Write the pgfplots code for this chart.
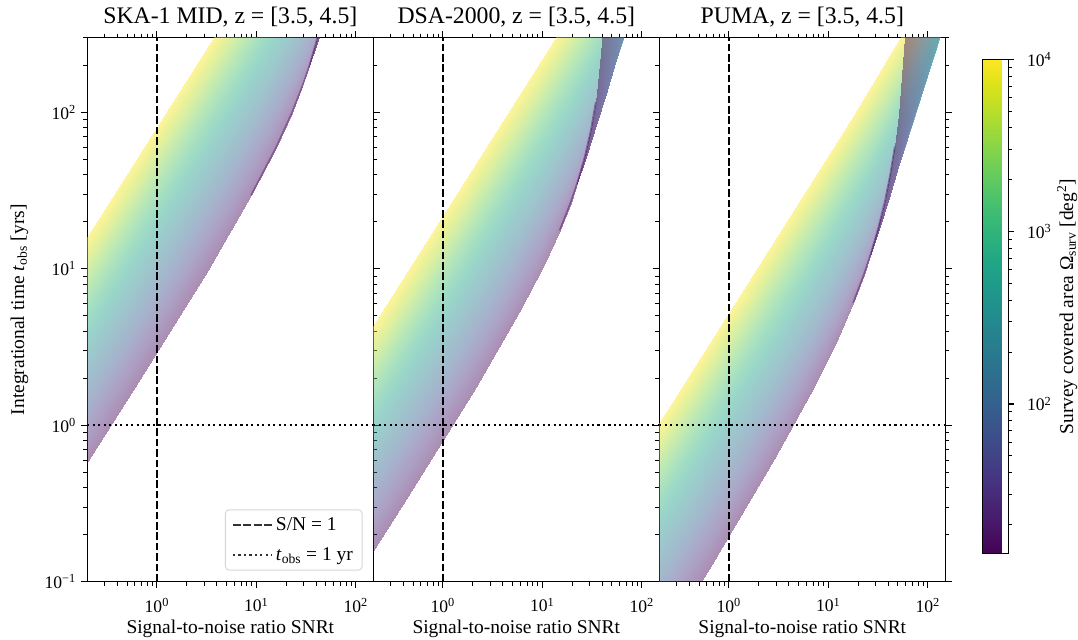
\documentclass[border=0pt]{standalone}
\usepackage{fontspec}
\setmainfont{Liberation Serif}
\usepackage{pgfplots}
\pgfplotsset{compat=1.18}
\definecolor{vdark}{RGB}{70,12,96}
\newcommand\fTitle{\fontsize{17.8}{20}\selectfont}
\newcommand\fLab{\fontsize{14.6}{17}\selectfont}
\newcommand\fTick{\fontsize{13.2}{15}\selectfont}
\begin{document}
\begin{tikzpicture}
\useasboundingbox (-65.5pt,-43pt) rectangle (743pt,436.25pt);
% ---------------- SKA-1 MID ----------------
\begin{axis}[name=p1, at={(0pt,0pt)}, anchor=south west,
    scale only axis, width=214.5pt, height=408pt,
    xmode=log, ymode=log, xmin=0.2, xmax=150, ymin=0.1, ymax=300,
    colormap/viridis, point meta min=1.13, point meta max=4,
    axis line style={line width=0.8pt},
    tick style={black, line width=0.8pt},
    minor tick style={black, line width=0.6pt},
    tick align=outside,
    major tick length=5pt, minor tick length=3pt,
    xtick={1,10,100},
    xticklabels={10\textsuperscript{0},10\textsuperscript{1},10\textsuperscript{2}},
    minor xtick={0.3,0.4,0.5,0.6,0.7,0.8,0.9,2,3,4,5,6,7,8,9,20,30,40,50,60,70,80,90},
    xtick pos=both, xticklabel pos=left,
    xticklabel style={font=\fTick, yshift=-3.75pt},
    ytick={0.1,1,10,100},
    minor ytick={0.2,0.3,0.4,0.5,0.6,0.7,0.8,0.9,2,3,4,5,6,7,8,9,20,30,40,50,60,70,80,90,200,300},
    xlabel={Signal-to-noise ratio SNRt},
    xlabel style={font=\fLab, at={(axis description cs:0.5,-0.0961)}, anchor=base},
    title style={font=\fTitle, at={(axis description cs:0.5,1.012)}, anchor=base},
  title={SKA-1 MID, z = [3.5, 4.5]},
  ytick pos=both, yticklabel pos=left,
  yticklabels={10\textsuperscript{−1},10\textsuperscript{0},10\textsuperscript{1},10\textsuperscript{2}},
  yticklabel style={font=\fTick},
  ylabel={Integrational time \textit{t}\textsubscript{obs} [yrs]},
  ylabel style={font=\fLab, at={(axis description cs:-0.2373,0.5)}, anchor=center},
  legend style={at={(axis description cs:0.963,0.0202)}, anchor=south east,
    draw=black!20, line width=0.75pt, rounded corners=3pt, fill=white,
    fill opacity=0.8, draw opacity=0.8, text opacity=1, font=\fLab,
    inner xsep=5pt, inner ysep=4pt, row sep=7pt},
  legend cell align=left,
  legend image code/.code={\draw[#1] (0pt,0pt) -- (29.5pt,0pt);},
]
\addplot[surf, shader=interp, opacity=0.45, point meta=explicit, mesh/cols=8, forget plot] table[meta=m] {
S t m
0.00006784 0.0001968 1.13
0.6717 1.968 1.13
3.2305 9.84 1.13
8.849 29.52 1.13
15.655 59.04 1.13
22.613 98.4 1.13
29.074 147.6 1.13
33.92 196.8 1.13

0.0000825 0.0002911 1.3
0.8168 2.911 1.3
3.9286 14.555 1.3
10.761 43.665 1.3
19.038 87.33 1.3
27.5 145.55 1.3
35.357 218.33 1.3
41.25 291.1 1.3

0.00010386 0.0004614 1.5
1.0283 4.614 1.5
4.9457 23.07 1.5
13.547 69.21 1.5
23.968 138.42 1.5
34.62 230.7 1.5
44.511 346.05 1.5
51.93 461.4 1.5

0.0001385 0.0008205 1.75
1.3713 8.205 1.75
6.5952 41.025 1.75
18.065 123.08 1.75
31.962 246.15 1.75
46.167 410.25 1.75
59.357 615.38 1.75
69.25 820.5 1.75

0.0001847 0.001459 2
1.8287 14.59 2
8.795 72.95 2
24.091 218.85 2
42.623 437.7 2
61.567 729.5 2
79.157 1094.3 2
92.35 1459 2

0.00032845 0.004614 2.5
3.252 46.138 2.5
15.64 230.69 2.5
42.841 692.07 2.5
75.796 1384.1 2.5
109.48 2306.9 2.5
140.76 3460.4 2.5
164.23 4613.8 2.5

0.00058407 0.01459 3
5.7829 145.9 3
27.813 729.5 3
76.183 2188.5 3
134.79 4377 3
194.69 7295 3
250.32 10943 3
292.04 14590 3

0.0010386 0.046138 3.5
10.283 461.38 3.5
49.457 2306.9 3.5
135.47 6920.7 3.5
239.68 13841 3.5
346.2 23069 3.5
445.11 34604 3.5
519.3 46138 3.5

0.001847 0.1459 4
18.287 1459 4
87.952 7295 4
240.91 21885 4
426.23 43770 4
615.67 72950 4
791.57 109425 4
923.5 145900 4
};
\addplot[surf, shader=interp, opacity=0.45, point meta=explicit, mesh/cols=9, forget plot] table[meta=m] {
S t m
33.92 196.8 1.13
40.70 295.2 1.13
46.64 432.96 1.13
52.06 649.44 1.13
56.53 984 1.13
60.30 1574.4 1.13
63.32 2755.2 1.13
65.23 4920 1.13
66.37 8856 1.13

41.25 291.1 1.3
49.5 436.65 1.3
56.719 640.42 1.3
63.314 960.63 1.3
68.75 1455.5 1.3
73.333 2328.8 1.3
77.0 4075.4 1.3
79.327 7277.5 1.3
80.707 13100 1.3

51.93 461.4 1.5
62.316 692.1 1.5
71.404 1015.1 1.5
79.707 1522.6 1.5
86.55 2307 1.5
92.32 3691.2 1.5
96.936 6459.6 1.5
99.865 11535 1.5
101.6 20763 1.5
};
\addplot[vdark, opacity=0.4, line width=1.2pt, forget plot] coordinates {(8.849,29.52) (15.655,59.04) (22.613,98.4) (29.074,147.6) (33.92,196.8) (40.70,295.2) (46.64,432.96)};
\addplot[black, line width=1.5pt, dash pattern=on 5.8pt off 2pt] coordinates {(1,0.1) (1,300)};
\addlegendentry{S/N = 1}
\addplot[black, line width=1.5pt, dash pattern=on 1.6pt off 2.5pt] coordinates {(0.2,1) (150,1)};
\addlegendentry{\textit{t}\textsubscript{obs} = 1 yr}
\end{axis}
% ---------------- DSA-2000 ----------------
\begin{axis}[name=p2, at={(p1.south east)}, anchor=south west,
    scale only axis, width=214.5pt, height=408pt,
    xmode=log, ymode=log, xmin=0.2, xmax=150, ymin=0.1, ymax=300,
    colormap/viridis, point meta min=1.13, point meta max=4,
    axis line style={line width=0.8pt},
    tick style={black, line width=0.8pt},
    minor tick style={black, line width=0.6pt},
    tick align=outside,
    major tick length=5pt, minor tick length=3pt,
    xtick={1,10,100},
    xticklabels={10\textsuperscript{0},10\textsuperscript{1},10\textsuperscript{2}},
    minor xtick={0.3,0.4,0.5,0.6,0.7,0.8,0.9,2,3,4,5,6,7,8,9,20,30,40,50,60,70,80,90},
    xtick pos=both, xticklabel pos=left,
    xticklabel style={font=\fTick, yshift=-3.75pt},
    ymajorticks=false, yminorticks=false,
    xlabel={Signal-to-noise ratio SNRt},
    xlabel style={font=\fLab, at={(axis description cs:0.5,-0.0961)}, anchor=base},
    title style={font=\fTitle, at={(axis description cs:0.5,1.012)}, anchor=base},
  title={DSA-2000, z = [3.5, 4.5]},
]
\addplot[surf, shader=interp, opacity=0.45, point meta=explicit, mesh/cols=8, forget plot] table[meta=m] {
S t m
0.00004481 0.00003522 1.13
0.44367 0.3522 1.13
2.1338 1.761 1.13
5.8448 5.283 1.13
10.341 10.566 1.13
14.937 17.61 1.13
19.204 26.415 1.13
22.405 35.22 1.13

0.000054495 0.000052097 1.3
0.53956 0.52097 1.3
2.595 2.6049 1.3
7.1081 7.8146 1.3
12.576 15.629 1.3
18.165 26.049 1.3
23.355 39.073 1.3
27.248 52.097 1.3

0.000068605 0.000082568 1.5
0.67926 0.82568 1.5
3.2669 4.1284 1.5
8.9485 12.385 1.5
15.832 24.77 1.5
22.868 41.284 1.5
29.402 61.926 1.5
34.303 82.568 1.5

0.00008637 0.00013086 1.7
0.85515 1.3086 1.7
4.1129 6.543 1.7
11.266 19.629 1.7
19.932 39.258 1.7
28.79 65.43 1.7
37.016 98.145 1.7
43.185 130.86 1.7

0.00010873 0.0002074 1.9
1.0765 2.074 1.9
5.1776 10.37 1.9
14.182 31.11 1.9
25.091 62.22 1.9
36.243 103.7 1.9
46.599 155.55 1.9
54.365 207.4 1.9

0.00013688 0.0003287 2.1
1.3553 3.287 2.1
6.5181 16.435 2.1
17.854 49.305 2.1
31.588 98.61 2.1
45.627 164.35 2.1
58.663 246.53 2.1
68.44 328.7 2.1

0.00017233 0.00052097 2.3
1.7062 5.2097 2.3
8.2062 26.049 2.3
22.478 78.146 2.3
39.768 156.29 2.3
57.443 260.49 2.3
73.856 390.73 2.3
86.165 520.97 2.3

0.00024343 0.0010395 2.6
2.4102 10.395 2.6
11.592 51.975 2.6
31.752 155.93 2.6
56.176 311.85 2.6
81.143 519.75 2.6
104.33 779.63 2.6
121.72 1039.5 2.6

0.0003858 0.002611 3
3.8198 26.11 3
18.371 130.55 3
50.322 391.65 3
89.031 783.3 3
128.6 1305.5 3
165.34 1958.3 3
192.9 2611 3

0.00068605 0.0082568 3.5
6.7926 82.568 3.5
32.669 412.84 3.5
89.485 1238.5 3.5
158.32 2477 3.5
228.68 4128.4 3.5
294.02 6192.6 3.5
343.03 8256.8 3.5

0.00122 0.02611 4
12.079 261.1 4
58.095 1305.5 4
159.13 3916.5 4
281.54 7833 4
406.67 13055 4
522.86 19583 4
610 26110 4
};
\addplot[surf, shader=interp, opacity=0.45, point meta=explicit, mesh/cols=9, forget plot] table[meta=m] {
S t m
22.405 35.22 1.13
26.886 52.83 1.13
30.807 77.484 1.13
34.389 116.23 1.13
37.342 176.1 1.13
39.831 281.76 1.13
41.823 493.08 1.13
43.087 880.5 1.13
43.836 1584.9 1.13

27.248 52.097 1.3
32.697 78.146 1.3
37.465 114.61 1.3
41.822 171.92 1.3
45.413 260.49 1.3
48.44 416.78 1.3
50.862 729.36 1.3
52.399 1302.4 1.3
53.311 2344.4 1.3

34.303 82.568 1.5
41.163 123.85 1.5
47.166 181.65 1.5
52.651 272.47 1.5
57.171 412.84 1.5
60.982 660.54 1.5
64.031 1155.95 1.5
65.966 2064.2 1.5
67.113 3715.6 1.5

43.185 130.86 1.7
51.822 196.29 1.7
59.379 287.89 1.7
66.284 431.84 1.7
71.975 654.3 1.7
76.773 1046.9 1.7
80.612 1832 1.7
83.048 3271.5 1.7
84.493 5888.7 1.7

54.365 207.4 1.9
65.238 311.1 1.9
74.752 456.28 1.9
83.443 684.42 1.9
90.608 1037 1.9
96.649 1659.2 1.9
101.48 2903.6 1.9
104.55 5185 1.9
106.37 9333 1.9

68.44 328.7 2.1
82.128 493.05 2.1
94.105 723.14 2.1
105.05 1084.7 2.1
114.07 1643.5 2.1
121.67 2629.6 2.1
127.75 4601.8 2.1
131.62 8217.5 2.1
133.9 14792 2.1
};
\addplot[vdark, opacity=0.45, line width=1.2pt, forget plot] coordinates {(14.937,17.61) (19.204,26.415) (22.405,35.22) (26.886,52.83) (30.807,77.484) (34.389,116.23)};
\addplot[black, line width=1.5pt, dash pattern=on 5.8pt off 2pt] coordinates {(1,0.1) (1,300)};
\addplot[black, line width=1.5pt, dash pattern=on 1.6pt off 2.5pt] coordinates {(0.2,1) (150,1)};
\end{axis}
% ---------------- PUMA ----------------
\begin{axis}[name=p3, at={(p2.south east)}, anchor=south west,
    scale only axis, width=214.5pt, height=408pt,
    xmode=log, ymode=log, xmin=0.2, xmax=150, ymin=0.1, ymax=300,
    colormap/viridis, point meta min=1.13, point meta max=4,
    axis line style={line width=0.8pt},
    tick style={black, line width=0.8pt},
    minor tick style={black, line width=0.6pt},
    tick align=outside,
    major tick length=5pt, minor tick length=3pt,
    xtick={1,10,100},
    xticklabels={10\textsuperscript{0},10\textsuperscript{1},10\textsuperscript{2}},
    minor xtick={0.3,0.4,0.5,0.6,0.7,0.8,0.9,2,3,4,5,6,7,8,9,20,30,40,50,60,70,80,90},
    xtick pos=both, xticklabel pos=left,
    xticklabel style={font=\fTick, yshift=-3.75pt},
    ytick={0.1,1,10,100},
    minor ytick={0.2,0.3,0.4,0.5,0.6,0.7,0.8,0.9,2,3,4,5,6,7,8,9,20,30,40,50,60,70,80,90,200,300},
    ytick pos=both, yticklabels={,,,},
    xlabel={Signal-to-noise ratio SNRt},
    xlabel style={font=\fLab, at={(axis description cs:0.5,-0.0961)}, anchor=base},
    title style={font=\fTitle, at={(axis description cs:0.5,1.012)}, anchor=base},
  title={PUMA, z = [3.5, 4.5]},
  colorbar,
  colorbar style={
    at={(parent axis.north east)}, anchor=north west,
    xshift=19.7pt, yshift=-16.2pt,
    scale only axis, width=19.5pt, height=371pt,
    axis line style={line width=0.8pt},
    ytick={2,3,4},
    yticklabels={10\textsuperscript{2},10\textsuperscript{3},10\textsuperscript{4}},
    minor ytick={1.30103,1.47712,1.60206,1.69897,1.77815,1.84510,1.90309,1.95424,2.30103,2.47712,2.60206,2.69897,2.77815,2.84510,2.90309,2.95424,3.30103,3.47712,3.60206,3.69897,3.77815,3.84510,3.90309,3.95424},
    ytick pos=right, yticklabel pos=right,
    tick align=outside, major tick length=3.75pt, minor tick length=2.25pt,
    tick style={black, line width=0.8pt},
    minor tick style={black, line width=0.6pt},
    yticklabel style={font=\fTick, xshift=6.3pt},
    ylabel={Survey covered area Ω\textsubscript{surv} [deg\textsuperscript{2}]},
    ylabel style={font=\fLab, at={(axis description cs:3.24,0.5)}, anchor=center},
  },
]
\addplot[surf, shader=interp, opacity=0.45, point meta=explicit, mesh/cols=8, forget plot] table[meta=m] {
S t m
0.000065012 0.0000121 1.13
0.626 0.121 1.13
2.8678 0.605 1.13
7.4133 1.815 1.13
12.6 3.63 1.13
17.776 6.05 1.13
22.606 9.075 1.13
26.312 12.1 1.13

0.000079062 0.000017898 1.3
0.76129 0.17898 1.3
3.4875 0.8949 1.3
9.0154 2.6847 1.3
15.323 5.3694 1.3
21.617 8.949 1.3
27.492 13.424 1.3
31.998 17.898 1.3

0.000099534 0.000028366 1.5
0.95841 0.28366 1.5
4.3905 1.4183 1.5
11.35 4.2549 1.5
19.291 8.5098 1.5
27.215 14.183 1.5
34.61 21.275 1.5
40.283 28.366 1.5

0.00012531 0.000044957 1.7
1.2066 0.44957 1.7
5.5275 2.2479 1.7
14.289 6.7436 1.7
24.286 13.487 1.7
34.262 22.479 1.7
43.573 33.718 1.7
50.715 44.957 1.7

0.00015775 0.000071251 1.9
1.519 0.71251 1.9
6.9585 3.5626 1.9
17.988 10.688 1.9
30.574 21.375 1.9
43.132 35.626 1.9
54.853 53.438 1.9
63.845 71.251 1.9

0.00019859 0.00011292 2.1
1.9122 1.1292 2.1
8.76 5.646 2.1
22.645 16.938 2.1
38.489 33.876 2.1
54.298 56.46 2.1
69.054 84.69 2.1
80.373 112.92 2.1

0.00025001 0.00017898 2.3
2.4073 1.7898 2.3
11.028 8.949 2.3
28.508 26.847 2.3
48.454 53.694 2.3
68.357 89.49 2.3
86.933 134.24 2.3
101.18 178.98 2.3

0.00031476 0.00028366 2.5
3.0308 2.8366 2.5
13.885 14.183 2.5
35.892 42.549 2.5
61.004 85.098 2.5
86.062 141.83 2.5
109.45 212.75 2.5
127.39 283.66 2.5

0.00039625 0.00044957 2.7
3.8155 4.4957 2.7
17.479 22.479 2.7
45.184 67.436 2.7
76.797 134.87 2.7
108.34 224.79 2.7
137.78 337.18 2.7
160.37 449.57 2.7

0.00055973 0.000897 3
5.3896 8.97 3
24.69 44.85 3
63.826 134.55 3
108.48 269.1 3
153.04 448.5 3
194.63 672.75 3
226.54 897 3

0.00099534 0.0028366 3.5
9.5841 28.366 3.5
43.905 141.83 3.5
113.5 425.49 3.5
192.91 850.98 3.5
272.15 1418.3 3.5
346.1 2127.5 3.5
402.83 2836.6 3.5

0.00177 0.00897 4
17.043 89.7 4
78.076 448.5 4
201.83 1345.5 4
343.04 2691 4
483.95 4485 4
615.46 6727.5 4
716.35 8970 4
};
\addplot[surf, shader=interp, opacity=0.45, point meta=explicit, mesh/cols=9, forget plot] table[meta=m] {
S t m
26.312 12.1 1.13
31.726 18.15 1.13
36.809 26.62 1.13
41.898 39.93 1.13
46.595 60.5 1.13
51.097 96.8 1.13
55.319 169.4 1.13
58.517 302.5 1.13
60.8 544.5 1.13

31.998 17.898 1.3
38.582 26.847 1.3
44.764 39.376 1.3
50.953 59.063 1.3
56.665 89.49 1.3
62.139 143.18 1.3
67.274 250.57 1.3
71.163 447.45 1.3
73.94 805.41 1.3

40.283 28.366 1.5
48.573 42.549 1.5
56.355 62.405 1.5
64.147 93.608 1.5
71.338 141.83 1.5
78.23 226.93 1.5
84.694 397.12 1.5
89.59 709.15 1.5
93.085 1276.5 1.5

50.715 44.957 1.7
61.151 67.436 1.7
70.949 98.905 1.7
80.759 148.36 1.7
89.812 224.79 1.7
98.489 359.66 1.7
106.63 629.4 1.7
112.79 1123.9 1.7
117.19 2023.1 1.7

63.845 71.251 1.9
76.982 106.88 1.9
89.316 156.75 1.9
101.67 235.13 1.9
113.06 356.26 1.9
123.99 570.01 1.9
134.23 997.51 1.9
141.99 1781.3 1.9
147.53 3206.3 1.9

80.373 112.92 2.1
96.912 169.38 2.1
112.44 248.42 2.1
127.99 372.64 2.1
142.33 564.6 2.1
156.08 903.36 2.1
168.98 1580.9 2.1
178.75 2823 2.1
185.72 5081.4 2.1

101.18 178.98 2.3
122.0 268.47 2.3
141.55 393.76 2.3
161.12 590.63 2.3
179.19 894.9 2.3
196.5 1431.8 2.3
212.74 2505.7 2.3
225.03 4474.5 2.3
233.81 8054.1 2.3

127.39 283.66 2.5
153.6 425.49 2.5
178.21 624.05 2.5
202.85 936.08 2.5
225.6 1418.3 2.5
247.39 2269.3 2.5
267.83 3971.2 2.5
283.31 7091.5 2.5
294.37 12765 2.5

160.37 449.57 2.7
193.37 674.36 2.7
224.35 989.05 2.7
255.37 1483.6 2.7
284.0 2247.9 2.7
311.44 3596.6 2.7
337.17 6294 2.7
356.66 11239 2.7
370.58 20231 2.7
};
\addplot[vdark, opacity=0.45, line width=1.2pt, forget plot] coordinates {(17.776,6.05) (22.606,9.075) (26.312,12.1) (31.726,18.15) (36.809,26.62) (41.898,39.93) (46.595,60.5)};
\addplot[black, line width=1.5pt, dash pattern=on 5.8pt off 2pt] coordinates {(1,0.1) (1,300)};
\addplot[black, line width=1.5pt, dash pattern=on 1.6pt off 2.5pt] coordinates {(0.2,1) (150,1)};
\end{axis}
\end{tikzpicture}
\end{document}
